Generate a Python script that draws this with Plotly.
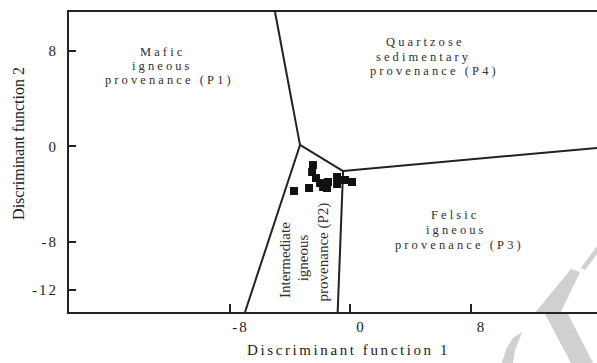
import plotly.graph_objects as go

# Sample scores on the two discriminant functions
df1 = [-3.72, -2.72, -2.46, -2.52, -2.26, -1.99, -1.79, -1.46, -1.53, -0.86, -0.86, -0.33, 0.13]
df2 = [-3.73, -3.48, -1.56, -2.14, -2.65, -3.07, -3.40, -2.98, -3.48, -2.56, -3.15, -2.81, -2.98]

# Field boundaries of the provenance discrimination diagram
node_a = (-3.32, 0.12)    # P1 / P2 / P4 junction
node_b = (-0.46, -2.06)   # P2 / P3 / P4 junction
boundary_segments = [
    [(-4.98, 11.25), node_a],   # P1 | P4
    [node_a, (-6.97, -13.86)],  # P1 | P2
    [node_a, node_b],           # P2 | P4
    [node_b, (16.40, -0.13)],   # P3 | P4
    [node_b, (-0.82, -13.86)],  # P2 | P3
]

x_range = [-18.66, 16.40]
y_range = [-13.86, 11.25]
x_ticks = [-8, 0, 8]
y_ticks = [-12, -8, 0, 8]

# Field names: (text, x, y, angle)
field_labels = [
    ("Mafic", -12.42, 7.90, 0),
    ("igneous", -12.42, 6.73, 0),
    ("provenance (P1)", -11.99, 5.56, 0),
    ("Quartzose", 4.98, 8.76, 0),
    ("sedimentary", 4.85, 7.51, 0),
    ("provenance (P4)", 5.60, 6.33, 0),
    ("Felsic", 6.97, -5.74, 0),
    ("igneous", 7.10, -7.00, 0),
    ("provenance (P3)", 7.30, -8.25, 0),
    ("Intermediate", -4.32, -9.51, -90),
    ("igneous", -3.10, -9.34, -90),
    ("provenance (P2)", -1.77, -8.84, -90),
]

x_title = "Discriminant function 1"
y_title = "Discriminant function 2"

SERIF = "Liberation Serif"
INK = "#222222"


def spaced(text, px):
    return f"<span style='letter-spacing:{px}px'>{text}</span>"


fig = go.Figure()

bx, by = [], []
for (p, q) in boundary_segments:
    bx += [p[0], q[0], None]
    by += [p[1], q[1], None]
fig.add_trace(go.Scatter(x=bx, y=by, mode="lines",
                         line=dict(color=INK, width=2),
                         hoverinfo="skip", showlegend=False))

fig.add_trace(go.Scatter(x=df1, y=df2, mode="markers",
                         marker=dict(symbol="square", size=8, color="#111111",
                                     line=dict(width=0)),
                         showlegend=False))

for text, x, y, ang in field_labels:
    if ang == 0:
        t = spaced(text, 3.1)
        size = 12.5
    else:
        t = text
        size = 15
    fig.add_annotation(x=x, y=y, xref="x", yref="y", text=t, textangle=ang,
                       showarrow=False, xanchor="center", yanchor="middle",
                       borderpad=0,
                       font=dict(family=SERIF, size=size, color="#303030"))

# axis titles
fig.add_annotation(x=0.530, y=-0.127, xref="paper", yref="paper",
                   text=spaced(x_title, 2.6), showarrow=False,
                   xanchor="center", yanchor="middle",
                   font=dict(family=SERIF, size=15, color=INK))
fig.add_annotation(x=-0.097, y=0.563, xref="paper", yref="paper",
                   text=y_title, textangle=-90, showarrow=False,
                   xanchor="center", yanchor="middle",
                   font=dict(family=SERIF, size=16, color=INK))

# faint grey watermark strokes in the lower right corner
W, H, L, T = 528.0, 300.0, 69.0, 12.0


def paper_path(pts):
    segs = []
    for i, (px, py) in enumerate(pts):
        segs.append(("M" if i == 0 else "L") + f"{(px - L) / W:.4f},{(T + H - py) / H:.4f}")
    return " ".join(segs) + " Z"


wm_main = [(534, 314), (571, 269), (580, 272), (560, 314)]
wm_lower = [(545, 314), (568, 314), (593, 363), (571, 363)]
wm_thin = [(581, 268), (597, 246), (597, 254), (585, 270)]
wm_hook = [(502, 363), (506, 349), (513, 338), (522, 332), (519, 340),
           (515, 350), (513, 363)]
for pts in (wm_main, wm_lower, wm_thin, wm_hook):
    fig.add_shape(type="path", xref="paper", yref="paper", path=paper_path(pts),
                  fillcolor="#d0d0d0", line=dict(width=0), layer="below")

fig.update_xaxes(
    range=x_range, showgrid=False, zeroline=False,
    showline=True, linecolor=INK, linewidth=2, mirror=True,
    ticks="inside", ticklen=8, tickwidth=1.5, tickcolor=INK,
    tickvals=x_ticks, ticktext=[spaced(str(v), 2) for v in x_ticks],
    ticklabelshift=11,
    tickfont=dict(family=SERIF, size=15, color=INK),
)
fig.update_yaxes(
    range=y_range, showgrid=False, zeroline=False,
    showline=True, linecolor=INK, linewidth=2, mirror=False,
    ticks="inside", ticklen=7, tickwidth=1.5, tickcolor=INK,
    tickvals=y_ticks, ticktext=[spaced(str(v), 2) for v in y_ticks],
    ticklabelstandoff=6,
    tickfont=dict(family=SERIF, size=15, color=INK),
)

fig.update_layout(
    width=597, height=363,
    margin=dict(l=69, r=0, t=12, b=51, autoexpand=False),
    plot_bgcolor="white", paper_bgcolor="white",
    showlegend=False,
)

fig.write_html("out.html")
